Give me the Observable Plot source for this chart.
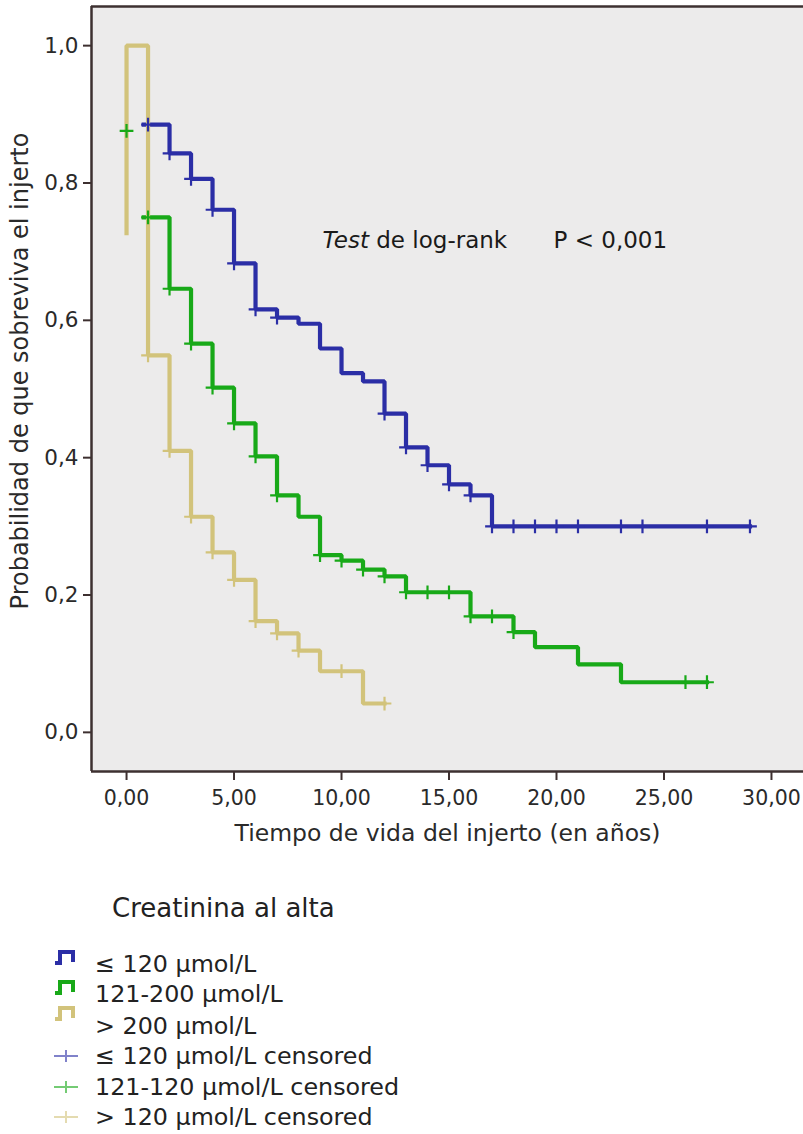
<!DOCTYPE html>
<html>
<head>
<meta charset="utf-8">
<script src="https://cdn.jsdelivr.net/npm/d3@7"></script>
<script src="https://cdn.jsdelivr.net/npm/@observablehq/plot@0.6"></script>
<style>
  body { margin: 0; background: #fff; font-family: "DejaVu Sans", Verdana, sans-serif; color: #222; }
  #chart { width: 803px; }
  #legend { position: relative; width: 803px; height: 284px; }
  #legend .ttl { position: absolute; left: 112px; top: 44px; font-size: 26px; line-height: 28px; white-space: nowrap; }
  #legend .row { position: absolute; left: 0; width: 803px; height: 28px; }
  #legend .row span { position: absolute; left: 95px; top: 0; font-size: 23.8px; line-height: 28px; white-space: nowrap; }
  #legend .row svg { position: absolute; left: 52px; }
</style>
</head>
<body>
<div id="chart"></div>
<div id="legend"></div>
<script>
// ---- data ----
const groups = ["≤ 120 µmol/L", "121-200 µmol/L", "> 200 µmol/L"];
const censoredLabels = ["≤ 120 µmol/L censored", "121-120 µmol/L censored", "> 120 µmol/L censored"];
const colors = ["#2b2ea6", "#18a918", "#d2c37b"];

// step curves: time (years) and survival after each step
const blueT = [0.8, 2, 3, 4, 5, 6, 7, 8, 9, 10, 11, 12, 13, 14, 15, 16, 17, 29];
const blueS = [0.885, 0.843, 0.806, 0.761, 0.683, 0.616, 0.604, 0.595, 0.559, 0.523, 0.511, 0.464, 0.415, 0.389, 0.361, 0.345, 0.300, 0.300];
const greenT = [0.8, 2, 3, 4, 5, 6, 7, 8, 9, 10, 11, 12, 13, 16, 18, 19, 21, 23, 27];
const greenS = [0.750, 0.646, 0.566, 0.502, 0.450, 0.402, 0.345, 0.314, 0.258, 0.250, 0.237, 0.227, 0.204, 0.169, 0.146, 0.124, 0.099, 0.073, 0.073];
const tanT = [0, 0, 1, 2, 3, 4, 5, 6, 7, 8, 9, 11, 12];
const tanS = [0.727, 1.000, 0.549, 0.410, 0.314, 0.262, 0.222, 0.162, 0.144, 0.119, 0.089, 0.042, 0.042];

// censored observations
const blueCensT = [1, 2, 3, 4, 5, 6, 7, 12, 13, 14, 15, 16, 17, 18, 19, 20, 21, 23, 24, 27, 29];
const blueCensS = [0.885, 0.843, 0.806, 0.761, 0.683, 0.616, 0.604, 0.464, 0.415, 0.389, 0.361, 0.345, 0.300, 0.300, 0.300, 0.300, 0.300, 0.300, 0.300, 0.300, 0.300];
const greenCensT = [0, 1, 2, 3, 4, 5, 6, 7, 9, 10, 11, 12, 13, 14, 15, 16, 17, 18, 26, 27];
const greenCensS = [0.876, 0.750, 0.646, 0.566, 0.502, 0.450, 0.402, 0.345, 0.258, 0.250, 0.237, 0.227, 0.204, 0.204, 0.204, 0.169, 0.169, 0.146, 0.073, 0.073];
const tanCensT = [1, 2, 3, 4, 5, 6, 7, 8, 10, 12];
const tanCensS = [0.549, 0.410, 0.314, 0.262, 0.222, 0.162, 0.144, 0.119, 0.089, 0.042];

// axes
const xTicks = [0, 5, 10, 15, 20, 25, 30];
const yTicks = [0, 0.2, 0.4, 0.6, 0.8, 1.0];
const xDomain = [-1.63, 31.49];
const yDomain = [-0.057, 1.057];
const xTitle = "Tiempo de vida del injerto (en años)";
const yTitle = "Probabilidad de que sobreviva el injerto";
const testLabel = "Test de log-rank";
const testT = 9.12, testS = 0.716;
const pLabel = "P < 0,001";
const pT = 19.86, pS = 0.716;
const legendTitle = "Creatinina al alta";

// ---- build tables ----
function curve(g, T, S) { return T.map((t, i) => ({group: g, t, s: S[i]})); }
const curves = [
  ...curve(groups[0], blueT, blueS),
  ...curve(groups[1], greenT, greenS),
  ...curve(groups[2], tanT, tanS)
];
const censored = [
  ...curve(groups[0], blueCensT, blueCensS),
  ...curve(groups[1], greenCensT, greenCensS),
  ...curve(groups[2], tanCensT, tanCensS)
];

const fmtX = d => d3.format(".2f")(d).replace(".", ",");
const fmtY = d => d3.format(".1f")(d).replace(".", ",");
const border = "#3d3030";

const plot = Plot.plot({
  width: 803,
  height: 850,
  marginLeft: 91,
  marginRight: 0,
  marginTop: 6,
  marginBottom: 79,
  style: { fontFamily: "'DejaVu Sans', Verdana, sans-serif", fontSize: "20px", background: "#fff", color: "#333" },
  x: { domain: xDomain },
  y: { domain: yDomain },
  color: { domain: groups, range: colors },
  marks: [
    Plot.frame({ fill: "#ecebeb", stroke: null }),
    Plot.axisX({ ticks: xTicks, tickFormat: fmtX, tickSize: 9, tickPadding: 10, fontSize: 20.5, stroke: border, strokeWidth: 2, fill: "#2a2a2a", label: null }),
    Plot.axisY({ ticks: yTicks, tickFormat: fmtY, tickSize: 8, tickPadding: 5, fontSize: 21.5, stroke: border, strokeWidth: 2, fill: "#2a2a2a", label: null }),
    Plot.line(curves, { x: "t", y: "s", z: "group", stroke: "group", curve: "step-after", strokeWidth: 4.2, strokeLinejoin: "miter", strokeLinecap: "square" }),
    Plot.dot(censored, { x: "t", y: "s", stroke: "group", symbol: "plus", r: 4.5, strokeWidth: 2.2 }),
    Plot.ruleX([xDomain[0]], { stroke: border, strokeWidth: 2.5 }),
    Plot.ruleY(yDomain, { stroke: border, strokeWidth: 2.5 }),
    Plot.text([xTitle], { frameAnchor: "bottom", lineAnchor: "middle", dx: 0, dy: 62, fontSize: 23.5, fill: "#2a2a2a" }),
    Plot.text([yTitle], { frameAnchor: "left", textAnchor: "middle", lineAnchor: "middle", rotate: -90, dx: -71, dy: -18, fontSize: 24, fill: "#2a2a2a" }),
    Plot.text([testLabel], { x: () => testT, y: () => testS, textAnchor: "start", fontSize: 23, fill: "#1a1a1a" }),
    Plot.text([pLabel], { x: () => pT, y: () => pS, textAnchor: "start", fontSize: 23, fill: "#1a1a1a" })
  ]
});
document.getElementById("chart").appendChild(plot);

// italicize "Test"
for (const el of plot.querySelectorAll("text")) {
  if (el.textContent === testLabel) {
    el.textContent = "";
    const a = document.createElementNS("http://www.w3.org/2000/svg", "tspan");
    a.setAttribute("font-style", "italic");
    a.textContent = "Test";
    el.appendChild(a);
    el.appendChild(document.createTextNode(testLabel.slice(4)));
  }
}

// ---- legend ----
const legend = document.getElementById("legend");
const t = document.createElement("div");
t.className = "ttl";
t.textContent = legendTitle;
legend.appendChild(t);

const rowTops = [100, 130, 162, 192, 223, 253];
const iconOffsets = [-6, -6, -12];
const ns = "http://www.w3.org/2000/svg";
groups.forEach((g, i) => {
  const row = document.createElement("div");
  row.className = "row";
  row.style.top = rowTops[i] + "px";
  const svg = document.createElementNS(ns, "svg");
  svg.setAttribute("width", 26); svg.setAttribute("height", 20);
  svg.style.top = (4 + iconOffsets[i]) + "px";
  const p = document.createElementNS(ns, "path");
  p.setAttribute("d", "M3,15 H8 V4 H21 V14");
  p.setAttribute("fill", "none");
  p.setAttribute("stroke", colors[i]);
  p.setAttribute("stroke-width", 4);
  svg.appendChild(p);
  row.appendChild(svg);
  const s = document.createElement("span");
  s.textContent = g;
  row.appendChild(s);
  legend.appendChild(row);
});
censoredLabels.forEach((g, i) => {
  const row = document.createElement("div");
  row.className = "row";
  row.style.top = rowTops[i + 3] + "px";
  const svg = document.createElementNS(ns, "svg");
  svg.setAttribute("width", 28); svg.setAttribute("height", 20);
  svg.style.top = "4px";
  const h = document.createElementNS(ns, "path");
  h.setAttribute("d", "M2,10 H26 M14,4 V16");
  h.setAttribute("fill", "none");
  h.setAttribute("stroke", colors[i]);
  h.setAttribute("stroke-opacity", 0.6);
  h.setAttribute("stroke-width", 2);
  svg.appendChild(h);
  row.appendChild(svg);
  const s = document.createElement("span");
  s.textContent = g;
  row.appendChild(s);
  legend.appendChild(row);
});
</script>
</body>
</html>
